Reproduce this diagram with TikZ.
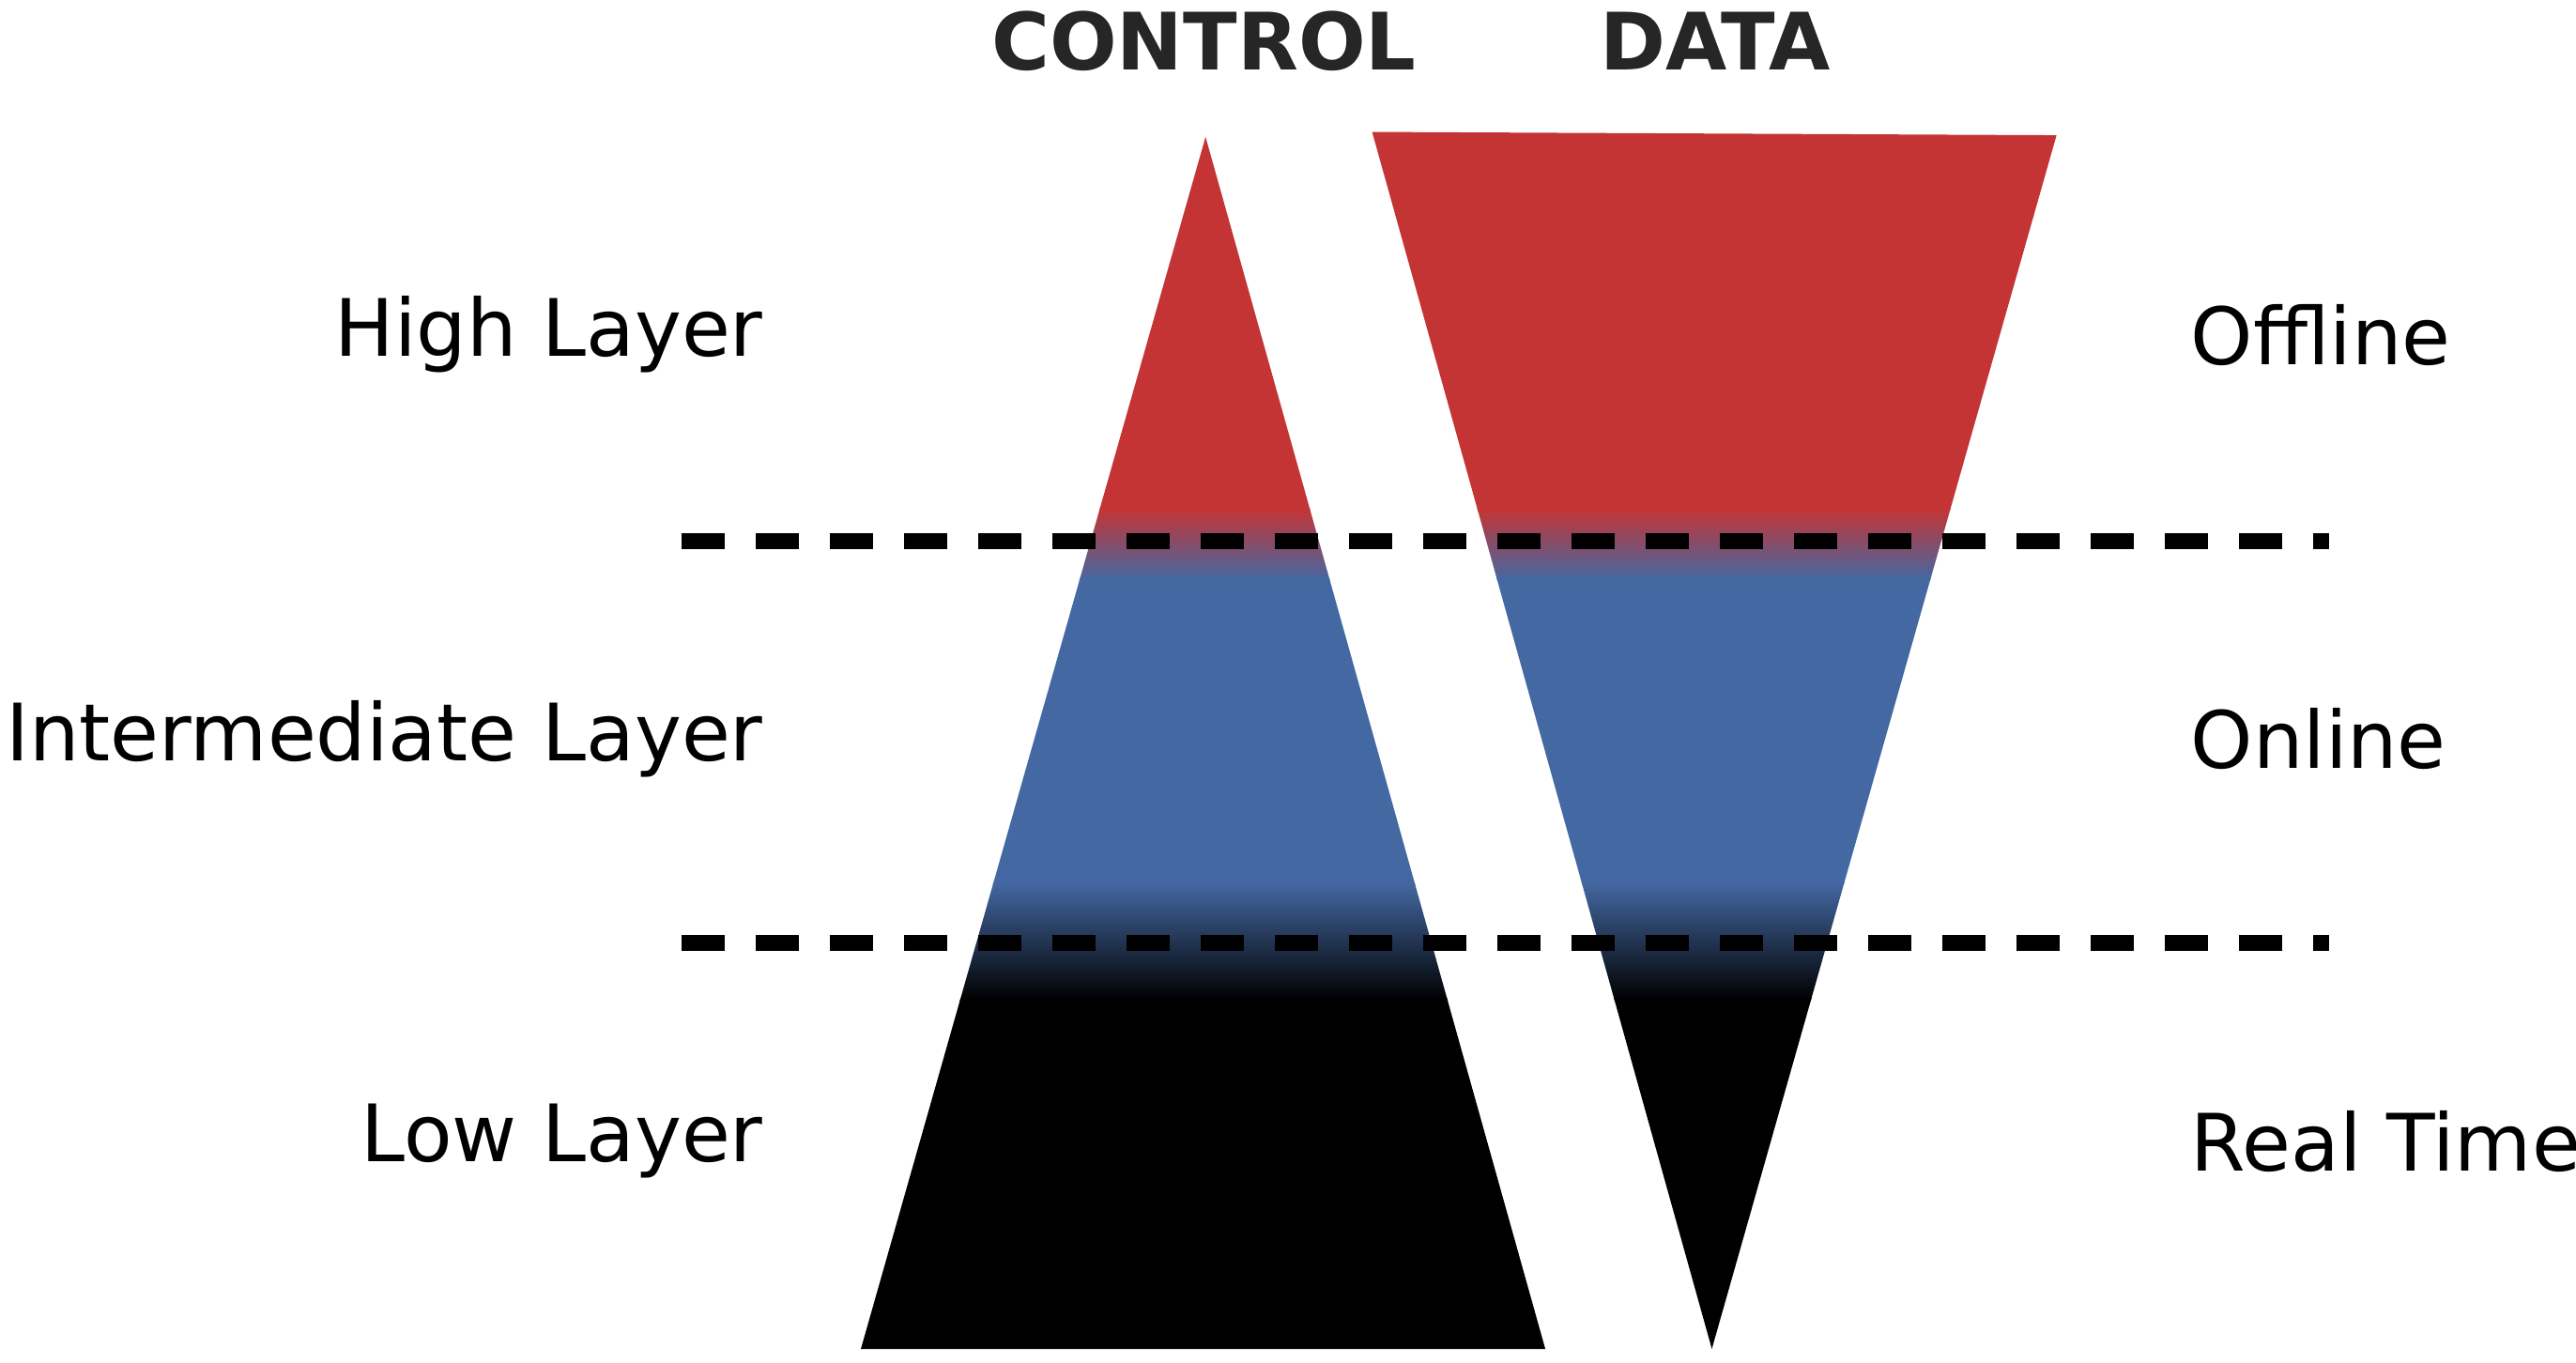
\documentclass[tikz,border=0pt]{standalone}
\usepackage{fontspec}
\setmainfont{DejaVu Sans}
\definecolor{cred}{RGB}{196,52,52}
\definecolor{cblue}{RGB}{68,104,162}
\begin{document}
\begin{tikzpicture}[x=0.01757cm,y=-0.01757cm,
  lbl/.style={font=\fontsize{24}{28}\selectfont,inner sep=0pt},
  ttl/.style={font=\fontsize{24}{28}\selectfont\bfseries,text=black!85,inner sep=0pt},
  sepline/.style={line width=0.17cm,dash pattern=on 0.46cm off 0.33cm}]
\useasboundingbox (0,0) rectangle (1562,826);
\newcommand{\gradfill}{%
  \fill[cred] (0,0) rectangle (1562,310);
  \shade[top color=cred,bottom color=cblue] (0,308) rectangle (1562,352);
  \fill[cblue] (0,350) rectangle (1562,537);
  \shade[top color=cblue,bottom color=black] (0,535) rectangle (1562,607);
  \fill[black] (0,605) rectangle (1562,826);}
\begin{scope}
\clip (731,83) -- (937,818) -- (522,818) -- cycle;
\gradfill
\end{scope}
\begin{scope}
\clip (832,80) -- (1247,82) -- (1038,818) -- cycle;
\gradfill
\end{scope}
\coordinate (d1a) at (413,328); \coordinate (d1b) at (1412,328);
\coordinate (d2a) at (413,572); \coordinate (d2b) at (1412,572);
\draw[sepline] (d1a) -- (d1b);
\draw[sepline] (d2a) -- (d2b);
\node[ttl] (control) at (730,25) {CONTROL};
\node[ttl] (data) at (1040,25) {DATA};
\node[lbl,anchor=east] (high) at (463,203) {High Layer};
\node[lbl,anchor=east] (inter) at (463,448) {Intermediate Layer};
\node[lbl,anchor=east] (low) at (463,692) {Low Layer};
\node[lbl,anchor=west] (off) at (1328,203) {Offline};
\node[lbl,anchor=west] (on) at (1328,448) {Online};
\node[lbl,anchor=west] (rt) at (1328,692) {Real Time};
\end{tikzpicture}
\end{document}
